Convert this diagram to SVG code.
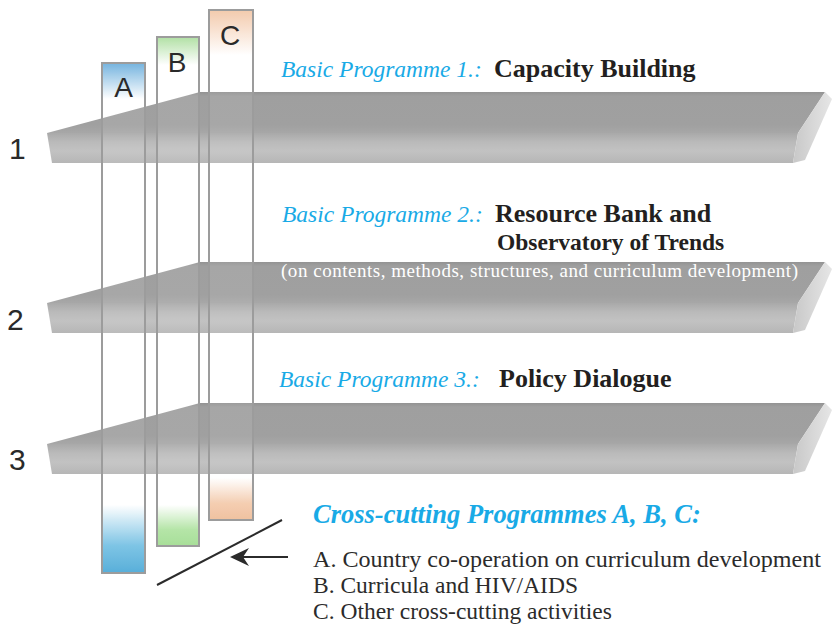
<svg xmlns="http://www.w3.org/2000/svg" width="834" height="627" viewBox="0 0 834 627">
<style>
.num{font-family:"Liberation Sans",Arial,sans-serif;font-size:30px;fill:#2a2a2a}
.lab{font-family:"Liberation Sans",Arial,sans-serif;font-size:28px;fill:#2a2a2a}
.bp{font-family:"Liberation Serif","Times New Roman",serif;font-style:italic;font-size:23.5px;fill:#19aae6}
.ttl{font-family:"Liberation Serif","Times New Roman",serif;font-weight:bold;font-size:26px;fill:#231f20}
.sub{font-family:"Liberation Serif","Times New Roman",serif;font-size:19px;fill:#ffffff}
.cc{font-family:"Liberation Serif","Times New Roman",serif;font-style:italic;font-weight:bold;font-size:26.5px;fill:#19aae6}
.leg{font-family:"Liberation Serif","Times New Roman",serif;font-size:23.5px;fill:#2b2b2b}
.col{fill:#ffffff;fill-opacity:0.08;stroke:#9c9c9c;stroke-width:2}
.conn{stroke:#2b2b2b;stroke-width:2;fill:none}
</style>
<defs>
<linearGradient id="frontG" x1="0" y1="0" x2="0" y2="1">
<stop offset="0" stop-color="#a9a9a9"/>
<stop offset="0.3" stop-color="#bababa"/>
<stop offset="0.6" stop-color="#c2c2c2"/>
<stop offset="1" stop-color="#b6b6b6"/>
</linearGradient>
<linearGradient id="topG" x1="0" y1="0" x2="0" y2="1">
<stop offset="0" stop-color="#939393"/>
<stop offset="0.1" stop-color="#9f9f9f"/>
<stop offset="0.8" stop-color="#a0a0a0"/>
<stop offset="1" stop-color="#a7a7a7"/>
</linearGradient>
<linearGradient id="sideG" x1="0" y1="0" x2="1" y2="0">
<stop offset="0" stop-color="#c8c8c8"/>
<stop offset="1" stop-color="#e6e6e6"/>
</linearGradient>
<linearGradient id="blueTop" x1="0" y1="0" x2="0" y2="1">
<stop offset="0" stop-color="#4f9fd6" stop-opacity="0.85"/>
<stop offset="1" stop-color="#4f9fd6" stop-opacity="0"/>
</linearGradient>
<linearGradient id="greenTop" x1="0" y1="0" x2="0" y2="1">
<stop offset="0" stop-color="#9cd88c" stop-opacity="0.85"/>
<stop offset="1" stop-color="#9cd88c" stop-opacity="0"/>
</linearGradient>
<linearGradient id="orangeTop" x1="0" y1="0" x2="0" y2="1">
<stop offset="0" stop-color="#f0b890" stop-opacity="0.8"/>
<stop offset="1" stop-color="#f0b890" stop-opacity="0"/>
</linearGradient>
<linearGradient id="blueBot" x1="0" y1="0" x2="0" y2="1">
<stop offset="0" stop-color="#5ab4de" stop-opacity="0"/>
<stop offset="0.6" stop-color="#5ab4de" stop-opacity="0.85"/>
<stop offset="1" stop-color="#4aa8d6"/>
</linearGradient>
<linearGradient id="greenBot" x1="0" y1="0" x2="0" y2="1">
<stop offset="0" stop-color="#a6e096" stop-opacity="0"/>
<stop offset="0.6" stop-color="#a6e096" stop-opacity="0.9"/>
<stop offset="1" stop-color="#a0dc90"/>
</linearGradient>
<linearGradient id="orangeBot" x1="0" y1="0" x2="0" y2="1">
<stop offset="0" stop-color="#f2c4a2" stop-opacity="0"/>
<stop offset="0.6" stop-color="#f2c4a2" stop-opacity="0.9"/>
<stop offset="1" stop-color="#eebc98"/>
</linearGradient>
<g id="slab">
<polygon points="47,133 200,92 825,92 798,133" fill="url(#topG)"/>
<polygon points="47,133 798,133 793,163 52,163" fill="url(#frontG)"/>
<polygon points="825,92 832,99 805,160 793,163 798,133" fill="url(#sideG)"/>
</g>
<marker id="ah" viewBox="0 0 20 20" refX="18" refY="10" markerWidth="20" markerHeight="20" markerUnits="userSpaceOnUse" orient="auto">
<path d="M20,10 L1,1 L7,10 L1,19 Z" fill="#2b2b2b"/>
</marker>
</defs>
<rect width="834" height="627" fill="#ffffff"/>

<g id="level1">
<use href="#slab"/>
<text class="num" x="9" y="159">1</text>
<text class="bp" x="281" y="77">Basic Programme 1.:</text>
<text class="ttl" x="494" y="77">Capacity Building</text>
</g>

<g id="level2">
<use href="#slab" transform="translate(0,170)"/>
<text class="num" x="7" y="330">2</text>
<text class="bp" x="282" y="222">Basic Programme 2.:</text>
<text class="ttl" x="495" y="222">Resource Bank and</text>
<text class="ttl" x="497" y="250" style="font-size:23.5px">Observatory of Trends</text>
<text class="sub" x="281" y="277" textLength="517" lengthAdjust="spacing">(on contents, methods, structures, and curriculum development)</text>
</g>

<g id="level3">
<use href="#slab" transform="translate(0,311)"/>
<text class="num" x="9" y="470">3</text>
<text class="bp" x="279" y="387">Basic Programme 3.:</text>
<text class="ttl" x="499" y="387">Policy Dialogue</text>
</g>

<g id="colA">
<rect x="102" y="63" width="43" height="36" fill="url(#blueTop)"/>
<rect x="102" y="505" width="43" height="68" fill="url(#blueBot)"/>
<rect class="col" x="102" y="63" width="43" height="510"/>
<text class="lab" x="123.5" y="97" text-anchor="middle">A</text>
</g>

<g id="colB">
<rect x="157" y="37" width="42" height="28" fill="url(#greenTop)"/>
<rect x="157" y="505" width="42" height="41" fill="url(#greenBot)"/>
<rect class="col" x="157" y="37" width="42" height="509"/>
<text class="lab" x="177" y="72" text-anchor="middle">B</text>
</g>

<g id="colC">
<rect x="209" y="10" width="44" height="45" fill="url(#orangeTop)"/>
<rect x="209" y="478" width="44" height="42" fill="url(#orangeBot)"/>
<rect class="col" x="209" y="10" width="44" height="510"/>
<text class="lab" x="230" y="45" text-anchor="middle">C</text>
</g>

<g id="connectors">
<line class="conn" x1="157" y1="585" x2="282" y2="520"/>
<line class="conn" x1="288" y1="557" x2="232" y2="557" marker-end="url(#ah)"/>
</g>

<g id="legend">
<text class="cc" x="313" y="523">Cross-cutting Programmes A, B, C:</text>
<text class="leg" x="313" y="567" textLength="508" lengthAdjust="spacingAndGlyphs">A. Country co-operation on curriculum development</text>
<text class="leg" x="313" y="593">B. Curricula and HIV/AIDS</text>
<text class="leg" x="313" y="619">C. Other cross-cutting activities</text>
</g>
</svg>
